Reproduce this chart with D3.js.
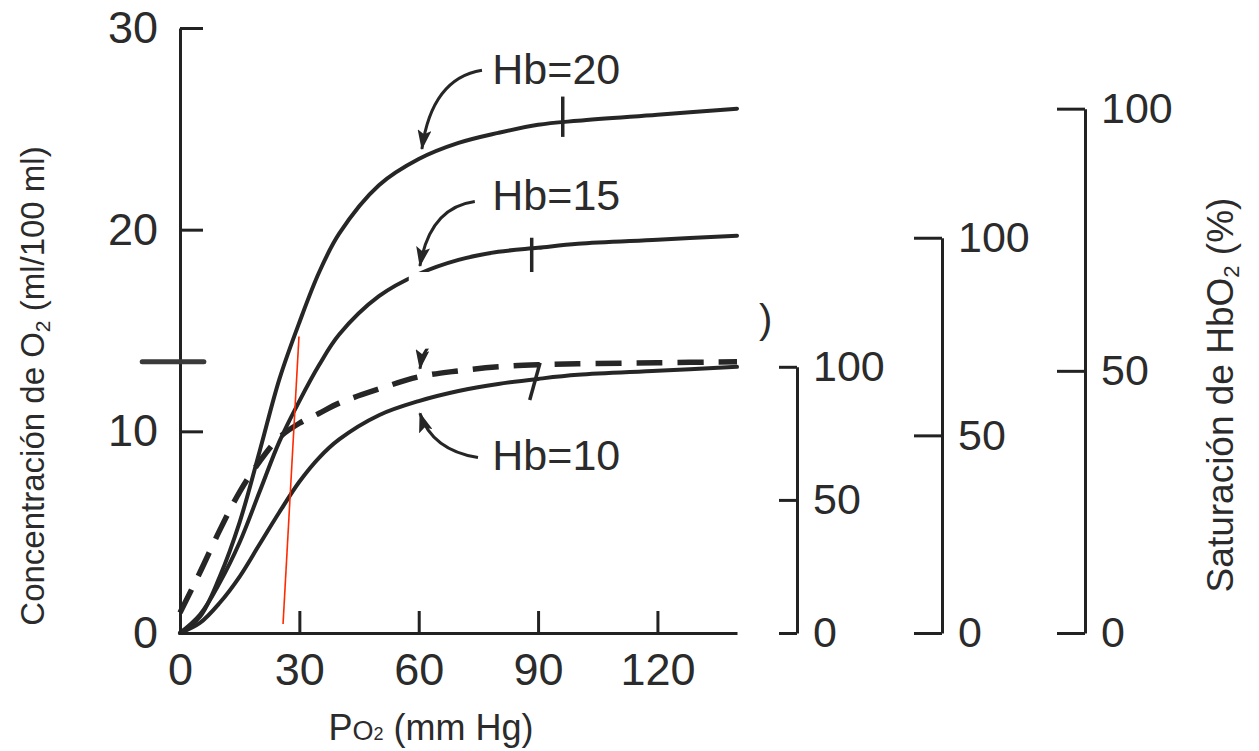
<!DOCTYPE html>
<html>
<head>
<meta charset="utf-8">
<script src="https://cdn.jsdelivr.net/npm/d3@7"></script>
<style>
  html, body { margin: 0; padding: 0; background: #ffffff; }
  svg { display: block; }
  text { font-family: "Liberation Sans", Arial, Helvetica, sans-serif; fill: #2b2b2b; }
</style>
</head>
<body>
<svg id="chart" width="1259" height="751"></svg>
<script>
// ---------- data ----------
const po2    = [0, 5, 10, 15, 20, 25, 30, 35, 40, 50, 60, 70, 80, 90, 100, 120, 140];
const hb20   = [0, 0.8, 2.8, 5.5, 9.0, 12.6, 15.4, 17.9, 19.8, 22.2, 23.5, 24.3, 24.8, 25.2, 25.4, 25.7, 26.0];
const hb15   = [0, 0.9, 2.5, 4.5, 7.0, 9.5, 11.5, 13.3, 14.8, 16.7, 17.8, 18.5, 18.9, 19.1, 19.3, 19.5, 19.7];
const hb10   = [0, 0.5, 1.5, 2.8, 4.4, 6.0, 7.5, 8.7, 9.6, 10.8, 11.5, 12.0, 12.35, 12.6, 12.8, 13.0, 13.2];
const dashed = [1.0, 3.0, 5.1, 7.0, 8.5, 9.7, 10.4, 10.9, 11.4, 12.1, 12.7, 13.0, 13.2, 13.3, 13.35, 13.4, 13.45];

const xTicks   = [0, 30, 60, 90, 120];
const yTicks   = [0, 10, 20, 30];
const satTicks = [0, 50, 100];
// O2 content (ml/100 ml) at 100 % saturation for Hb = 10, 15, 20
const satCapacity = [13.2, 19.6, 26.0];

const hbLabels   = ["Hb=20", "Hb=15", "Hb=10"];
const labelPos   = [[78.5, 27.2], [78.5, 21.0], [78.5, 8.1]];          // [PO2, O2] baseline-left
const arrowStart = [[75.9, 27.9], [74.1, 21.4], [74.9, 8.7], [70.4, 15.0]];
const arrowCtrl  = [[63.3, 27.5], [62.8, 21.1], [63.3, 9.07], [61.5, 14.8]];
const arrowEnd   = [[60.8, 24.0], [60.3, 18.2], [60.3, 10.9], [60.3, 13.1]];
// short marks drawn across the curves
const curveMarks = [[[96.2, 26.6], [96.2, 24.6]], [[88.4, 19.6], [88.4, 17.6]], [[90.5, 13.4], [87.9, 11.55]]];
// red hand-drawn annotation line [PO2, O2]
const redLine = [[25.9, 0.45], [29.9, 14.7]];

const xTitle = "P";
const yTitle = "Concentración de O";
const y2Title = "Saturación de HbO";

// ---------- layout ----------
const svg = d3.select("#chart");
const x = d3.scaleLinear().domain([0, 140]).range([180, 737]);
const y = d3.scaleLinear().domain([0, 30]).range([633, 28]);

const axisColor = "#222";
function styleAxis(g, fs) {
  g.select(".domain").attr("stroke", axisColor).attr("stroke-width", 3);
  g.selectAll(".tick line").attr("stroke", axisColor).attr("stroke-width", 3);
  g.selectAll(".tick text").attr("font-size", fs).attr("fill", "#2b2b2b")
    .attr("font-family", "'Liberation Sans', Arial, sans-serif");
}

// curves
const line = d3.line().x(d => x(d[0])).y(d => y(d[1])).curve(d3.curveCatmullRom.alpha(0.5));
const series = [hb20, hb15, hb10];
series.forEach(s => {
  svg.append("path").datum(po2.map((p, i) => [p, s[i]]))
    .attr("d", line).attr("fill", "none")
    .attr("stroke", "#262626").attr("stroke-width", 4).attr("stroke-linecap", "round");
});
svg.append("path").datum(po2.map((p, i) => [p, dashed[i]]))
  .attr("d", line).attr("fill", "none")
  .attr("stroke", "#262626").attr("stroke-width", 5.5)
  .attr("stroke-dasharray", "26,15");

// marks across curves
curveMarks.forEach(m => {
  svg.append("line")
    .attr("x1", x(m[0][0])).attr("y1", y(m[0][1]))
    .attr("x2", x(m[1][0])).attr("y2", y(m[1][1]))
    .attr("stroke", "#262626").attr("stroke-width", 3.5);
});

// arrows
const defs = svg.append("defs");
defs.append("marker").attr("id", "ah")
  .attr("markerUnits", "userSpaceOnUse")
  .attr("markerWidth", 20).attr("markerHeight", 14)
  .attr("refX", 19).attr("refY", 7).attr("orient", "auto")
  .append("path").attr("d", "M0,0 L20,7 L0,14 L4,7 z").attr("fill", "#262626");

arrowStart.forEach((s, i) => {
  const c = arrowCtrl[i], e = arrowEnd[i];
  svg.append("path")
    .attr("d", `M${x(s[0])},${y(s[1])} Q${x(c[0])},${y(c[1])} ${x(e[0])},${y(e[1])}`)
    .attr("fill", "none").attr("stroke", "#262626").attr("stroke-width", 3)
    .attr("marker-end", "url(#ah)");
});

// white patch that erases an old label in the reference
svg.append("rect")
  .attr("x", x(57.5)).attr("y", y(17.9))
  .attr("width", x(143) - x(57.5)).attr("height", y(14.1) - y(17.9))
  .attr("fill", "#ffffff");
svg.append("text").attr("x", x(145.5)).attr("y", y(14.9)).attr("font-size", 40).text(")");

// Hb labels
hbLabels.forEach((t, i) => {
  svg.append("text").attr("x", x(labelPos[i][0])).attr("y", y(labelPos[i][1]))
    .attr("font-size", 43).text(t);
});

// left axis
const gy = svg.append("g").attr("transform", `translate(${x(0)},0)`)
  .call(d3.axisLeft(y).tickValues(yTicks).tickSize(-23).tickSizeOuter(0).tickPadding(22));
styleAxis(gy, 45);

// x axis
const gx = svg.append("g").attr("transform", `translate(0,${y(0)})`)
  .call(d3.axisBottom(x).tickValues(xTicks).tickSize(-22).tickSizeOuter(0).tickPadding(20));
styleAxis(gx, 45);

// smudge on the left axis
svg.append("line").attr("x1", x(-9.5)).attr("x2", x(6)).attr("y1", y(13.45)).attr("y2", y(13.45))
  .attr("stroke", "#3a3a3a").attr("stroke-width", 5).attr("stroke-linecap", "round");

// saturation axes
const satX = [797, 942, 1085];
const satTickLen = [18, 28, 28];
satCapacity.forEach((cap, i) => {
  const s = d3.scaleLinear().domain([0, 100]).range([y(0), y(cap)]);
  const g = svg.append("g").attr("transform", `translate(${satX[i]},0)`)
    .call(d3.axisRight(s).tickValues(satTicks).tickSize(-satTickLen[i]).tickSizeOuter(0).tickPadding(16));
  styleAxis(g, 43);
});

// red annotation
svg.append("line")
  .attr("x1", x(redLine[0][0])).attr("y1", y(redLine[0][1]))
  .attr("x2", x(redLine[1][0])).attr("y2", y(redLine[1][1]))
  .attr("stroke", "#ff2a00").attr("stroke-width", 1.6);

// axis titles
const tx = svg.append("text").attr("x", 431).attr("y", 740).attr("text-anchor", "middle").attr("font-size", 36);
tx.append("tspan").text(xTitle);
tx.append("tspan").attr("font-size", 27).text("O");
tx.append("tspan").attr("font-size", 18).text("2");
tx.append("tspan").text(" (mm Hg)");

const ty = svg.append("text").attr("transform", "translate(44,386) rotate(-90)")
  .attr("text-anchor", "middle").attr("font-size", 33);
ty.append("tspan").text(yTitle);
ty.append("tspan").attr("font-size", 21).attr("dy", 6).text("2");
ty.append("tspan").attr("dy", -6).text(" (ml/100 ml)");

const ty2 = svg.append("text").attr("transform", "translate(1233,395) rotate(-90)")
  .attr("text-anchor", "middle").attr("font-size", 37);
ty2.append("tspan").text(y2Title);
ty2.append("tspan").attr("font-size", 22).attr("dy", 6).text("2");
ty2.append("tspan").attr("dy", -6).text(" (%)");
</script>
</body>
</html>
